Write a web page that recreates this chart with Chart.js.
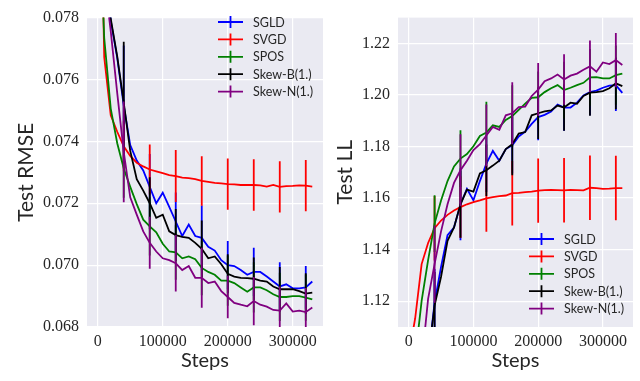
<!DOCTYPE html>
<html>
<head>
<meta charset="utf-8">
<script src="https://cdn.jsdelivr.net/npm/chart.js@4.4.1/dist/chart.umd.min.js"></script>
<style>
  html, body { margin: 0; padding: 0; background: #fff; }
  #wrap { position: relative; width: 640px; height: 381px; }
  .panel { position: absolute; top: 0; height: 381px; }
</style>
</head>
<body>
<div id="wrap">
  <div class="panel" style="left:0;width:330px"><canvas id="rmse" width="330" height="381"></canvas></div>
  <div class="panel" style="left:330px;width:310px"><canvas id="ll" width="310" height="381"></canvas></div>
</div>
<script>
// training steps (x) and the steps where error bars are shown
const steps = [0, 10000, 20000, 30000, 40000, 50000, 60000, 70000, 80000, 90000,
  100000, 110000, 120000, 130000, 140000, 150000, 160000, 170000, 180000, 190000,
  200000, 210000, 220000, 230000, 240000, 250000, 260000, 270000, 280000, 290000,
  300000, 310000, 320000, 330000];
const errSteps = [40000, 80000, 120000, 160000, 200000, 240000, 280000, 320000];

const methods = ['SGLD', 'SVGD', 'SPOS', 'Skew-B(1.)', 'Skew-N(1.)'];
const colors = ['#0000ff', '#ff0000', '#008000', '#000000', '#800080'];

// Test RMSE
const sgldRmse = [0.0900, 0.0805, 0.0779, 0.0767, 0.07516, 0.07388, 0.07338, 0.07306, 0.07253, 0.07200,
  0.07234, 0.07188, 0.07141, 0.07094, 0.07131, 0.07094, 0.07088, 0.07059, 0.07047, 0.07016,
  0.07000, 0.06997, 0.06984, 0.06969, 0.06978, 0.06978, 0.06963, 0.06947, 0.06931, 0.06938,
  0.06925, 0.06925, 0.06928, 0.06947];
const svgdRmse = [0.0874, 0.07672, 0.07484, 0.07431, 0.07384, 0.07353, 0.07331, 0.07319, 0.07309, 0.07303,
  0.07297, 0.07291, 0.07288, 0.07283, 0.07281, 0.07278, 0.07272, 0.07269, 0.07266, 0.07264,
  0.07262, 0.07261, 0.07259, 0.07259, 0.07259, 0.07258, 0.07254, 0.07259, 0.07253, 0.07255,
  0.07256, 0.07258, 0.07257, 0.07254];
const sposRmse = [0.0827, 0.07734, 0.07506, 0.07394, 0.07312, 0.07253, 0.07197, 0.07147, 0.07125, 0.07106,
  0.07069, 0.07044, 0.07041, 0.07022, 0.07028, 0.07019, 0.06991, 0.06978, 0.06969, 0.06950,
  0.06950, 0.06942, 0.06928, 0.06914, 0.06928, 0.06928, 0.06919, 0.06906, 0.06897, 0.06897,
  0.06900, 0.06900, 0.06895, 0.06889];
const skewBRmse = [0.0900, 0.0801, 0.07797, 0.07675, 0.07525, 0.07369, 0.07278, 0.07241, 0.07200, 0.07153,
  0.07163, 0.07109, 0.07097, 0.07091, 0.07088, 0.07072, 0.07053, 0.07022, 0.07028, 0.07003,
  0.06972, 0.06963, 0.06959, 0.06958, 0.06956, 0.06950, 0.06947, 0.06931, 0.06922, 0.06922,
  0.06922, 0.06916, 0.06908, 0.06911];
const skewNRmse = [0.0900, 0.07934, 0.07756, 0.07556, 0.07366, 0.07219, 0.07163, 0.07109, 0.07072, 0.07044,
  0.07022, 0.07016, 0.07006, 0.06984, 0.06997, 0.06959, 0.06959, 0.06942, 0.06947, 0.06916,
  0.06897, 0.06878, 0.06872, 0.06867, 0.06884, 0.06872, 0.06866, 0.06855, 0.06853, 0.06876,
  0.06850, 0.06853, 0.06848, 0.06863];

const sgldRmseErr = [0.00194, 0.00106, 0.00094, 0.00105, 0.00078, 0.00078, 0.00078, 0.00069];
const svgdRmseErr = [0.00081, 0.00081, 0.00084, 0.00080, 0.00083, 0.00083, 0.00083, 0.00083];
const sposRmseErr = [0.00094, 0.00094, 0.00088, 0.00088, 0.00081, 0.00081, 0.00078, 0.00075];
const skewBRmseErr = [0.00197, 0.00084, 0.00084, 0.00091, 0.00063, 0.00069, 0.00072, 0.00066];
const skewNRmseErr = [0.00163, 0.00084, 0.00091, 0.00097, 0.00069, 0.00078, 0.00078, 0.00078];

// Test LL
const sgldLl = [1.05, 1.07, 1.085, 1.097, 1.1195, 1.1333, 1.1456, 1.1486, 1.1576, 1.1636,
  1.1591, 1.1666, 1.1734, 1.1783, 1.1745, 1.1790, 1.1805, 1.1839, 1.1858, 1.1888,
  1.1914, 1.1923, 1.1936, 1.1963, 1.1951, 1.1951, 1.1970, 1.1998, 1.2011, 1.2017,
  1.2028, 1.2036, 1.2038, 1.2008];
const svgdLl = [1.099, 1.1133, 1.1344, 1.1426, 1.1483, 1.1513, 1.1535, 1.1552, 1.1565, 1.1576,
  1.1584, 1.1591, 1.1599, 1.1604, 1.1608, 1.1610, 1.1619, 1.1620, 1.1623, 1.1625,
  1.1629, 1.1631, 1.1632, 1.1631, 1.1630, 1.1632, 1.1631, 1.1630, 1.1640, 1.1639,
  1.1636, 1.1637, 1.1639, 1.1639];
const sposLl = [1.05, 1.098, 1.1201, 1.1359, 1.1501, 1.1591, 1.1666, 1.1723, 1.1753, 1.1771,
  1.1801, 1.1841, 1.1854, 1.1882, 1.1876, 1.1903, 1.1918, 1.1942, 1.1966, 1.1989,
  1.1991, 1.2011, 1.2026, 1.2038, 1.2019, 1.2028, 1.2038, 1.2047, 1.2068, 1.2069,
  1.2064, 1.2064, 1.2077, 1.2083];
const skewBLl = [1.05, 1.07, 1.085, 1.0976, 1.1183, 1.1295, 1.1434, 1.1486, 1.1576, 1.1633,
  1.1625, 1.1696, 1.1708, 1.1726, 1.1745, 1.1790, 1.1809, 1.1850, 1.1856, 1.1921,
  1.1929, 1.1936, 1.1940, 1.1959, 1.1951, 1.1970, 1.1966, 1.1996, 1.2009, 1.2011,
  1.2015, 1.2026, 1.2045, 1.2034];
const skewNLl = [1.05, 1.07, 1.0958, 1.1209, 1.1344, 1.1471, 1.1576, 1.1659, 1.1708, 1.1745,
  1.1786, 1.1809, 1.1843, 1.1876, 1.1865, 1.1921, 1.1929, 1.1953, 1.1955, 1.1996,
  1.2021, 1.2053, 1.2064, 1.2079, 1.2060, 1.2075, 1.2083, 1.2098, 1.2111, 1.2090,
  1.2126, 1.2120, 1.2135, 1.2116];

const sgldLlErr = [0.013, 0.014, 0.011, 0.011, 0.009, 0.009, 0.009, 0.010];
const svgdLlErr = [0.0125, 0.012, 0.013, 0.0125, 0.0125, 0.0125, 0.0125, 0.0125];
const sposLlErr = [0.011, 0.011, 0.012, 0.012, 0.010, 0.011, 0.011, 0.0115];
const skewBLlErr = [0.013, 0.013, 0.010, 0.012, 0.010, 0.009, 0.009, 0.010];
const skewNLlErr = [0.015, 0.014, 0.012, 0.012, 0.0103, 0.0098, 0.010, 0.0105];

// axis ticks
const stepTicks = [0, 100000, 200000, 300000];
const rmseTicks = [0.068, 0.070, 0.072, 0.074, 0.076, 0.078];
const llTicks = [1.12, 1.14, 1.16, 1.18, 1.20, 1.22];

const tickColor = '#262626';
const serif = '"Liberation Serif", "DejaVu Serif", serif';
const sans = 'Lato, "Open Sans", sans-serif';

// seaborn-like panel background
const panelBg = {
  id: 'panelBg',
  beforeDraw(chart) {
    const { ctx, chartArea: a } = chart;
    ctx.save();
    ctx.fillStyle = '#eaeaf2';
    ctx.fillRect(a.left, a.top, a.right - a.left, a.bottom - a.top);
    ctx.restore();
  }
};

// vertical error bars, drawn right after each line so stacking matches
const errorBars = {
  id: 'errorBars',
  afterDatasetDraw(chart, args) {
    const ds = chart.data.datasets[args.index];
    const { ctx, chartArea: a, scales: { x, y } } = chart;
    ctx.save();
    ctx.beginPath();
    ctx.rect(a.left, a.top, a.right - a.left, a.bottom - a.top);
    ctx.clip();
    ctx.strokeStyle = ds.borderColor;
    ctx.lineWidth = 1.8;
    errSteps.forEach((s, i) => {
      const v = ds.data.find(p => p.x === s).y;
      const px = x.getPixelForValue(s);
      ctx.beginPath();
      ctx.moveTo(px, y.getPixelForValue(v - ds.err[i]));
      ctx.lineTo(px, y.getPixelForValue(v + ds.err[i]));
      ctx.stroke();
    });
    ctx.restore();
  }
};

// matplotlib errorbar-style legend (line with a short vertical bar)
const errLegend = {
  id: 'errLegend',
  afterDraw(chart, args, opts) {
    const { ctx } = chart;
    ctx.save();
    ctx.font = '12.5px ' + sans;
    ctx.textBaseline = 'middle';
    ctx.textAlign = 'left';
    methods.forEach((name, i) => {
      const y = opts.top + i * opts.gap;
      const x0 = opts.left, x1 = opts.left + 25, xm = (x0 + x1) / 2;
      ctx.strokeStyle = colors[i];
      ctx.lineWidth = 1.8;
      ctx.beginPath();
      ctx.moveTo(x0, y); ctx.lineTo(x1, y);
      ctx.moveTo(xm, y - 6); ctx.lineTo(xm, y + 6);
      ctx.stroke();
      ctx.fillStyle = tickColor;
      ctx.fillText(name, x1 + 10, y + 0.5);
    });
    ctx.restore();
  }
};

function makeDatasets(series, errs) {
  return series.map((vals, i) => ({
    label: methods[i],
    data: steps.map((s, j) => ({ x: s, y: vals[j] })),
    err: errs[i],
    borderColor: colors[i],
    backgroundColor: colors[i],
    borderWidth: 1.8,
    pointRadius: 0,
    tension: 0,
    order: series.length - i
  }));
}

function makeChart(id, cfg) {
  return new Chart(document.getElementById(id), {
    type: 'line',
    data: { datasets: makeDatasets(cfg.series, cfg.errs) },
    plugins: [panelBg, errorBars, errLegend],
    options: {
      responsive: false,
      animation: false,
      events: [],
      layout: { padding: { left: 0, top: 7, right: cfg.padRight, bottom: 0 } },
      plugins: {
        legend: { display: false },
        tooltip: { enabled: false },
        errLegend: cfg.legend
      },
      scales: {
        x: {
          type: 'linear',
          min: -16500,
          max: 346500,
          afterBuildTicks: s => { s.ticks = stepTicks.map(v => ({ value: v })); },
          afterFit: s => { s.height = 54; },
          grid: { color: '#ffffff', lineWidth: 1.2, drawTicks: false },
          border: { display: false },
          ticks: {
            padding: 5,
            color: tickColor,
            font: { family: serif, size: 16 },
            maxRotation: 0,
            callback: v => String(v)
          },
          title: {
            display: true,
            text: 'Steps',
            color: tickColor,
            font: { family: sans, size: 20 },
            padding: { top: 0, bottom: 8 }
          }
        },
        y: {
          min: cfg.yMin,
          max: cfg.yMax,
          afterBuildTicks: s => { s.ticks = cfg.ticks.map(v => ({ value: v })); },
          afterFit: s => { s.width = cfg.axisWidth; },
          grid: { color: '#ffffff', lineWidth: 1.2, drawTicks: false },
          border: { display: false },
          ticks: {
            padding: 8,
            color: tickColor,
            font: { family: serif, size: 16 },
            callback: v => v.toFixed(cfg.digits)
          },
          title: {
            display: true,
            text: cfg.yTitle,
            color: tickColor,
            font: { family: sans, size: 21 },
            padding: { top: cfg.titlePad, bottom: 0 }
          }
        }
      }
    }
  });
}

makeChart('rmse', {
  series: [sgldRmse, svgdRmse, sposRmse, skewBRmse, skewNRmse],
  errs: [sgldRmseErr, svgdRmseErr, sposRmseErr, skewBRmseErr, skewNRmseErr],
  yMin: 0.068, yMax: 0.078, ticks: rmseTicks, digits: 3,
  yTitle: 'Test RMSE', axisWidth: 87, padRight: 7, titlePad: 13.4,
  legend: { left: 218, top: 22, gap: 17.4 }
});

makeChart('ll', {
  series: [sgldLl, svgdLl, sposLl, skewBLl, skewNLl],
  errs: [sgldLlErr, svgdLlErr, sposLlErr, skewBLlErr, skewNLlErr],
  yMin: 1.11, yMax: 1.23, ticks: llTicks, digits: 2,
  yTitle: 'Test LL', axisWidth: 68, padRight: 7, titlePad: 2.4,
  legend: { left: 199, top: 239, gap: 17.4 }
});
</script>
</body>
</html>
